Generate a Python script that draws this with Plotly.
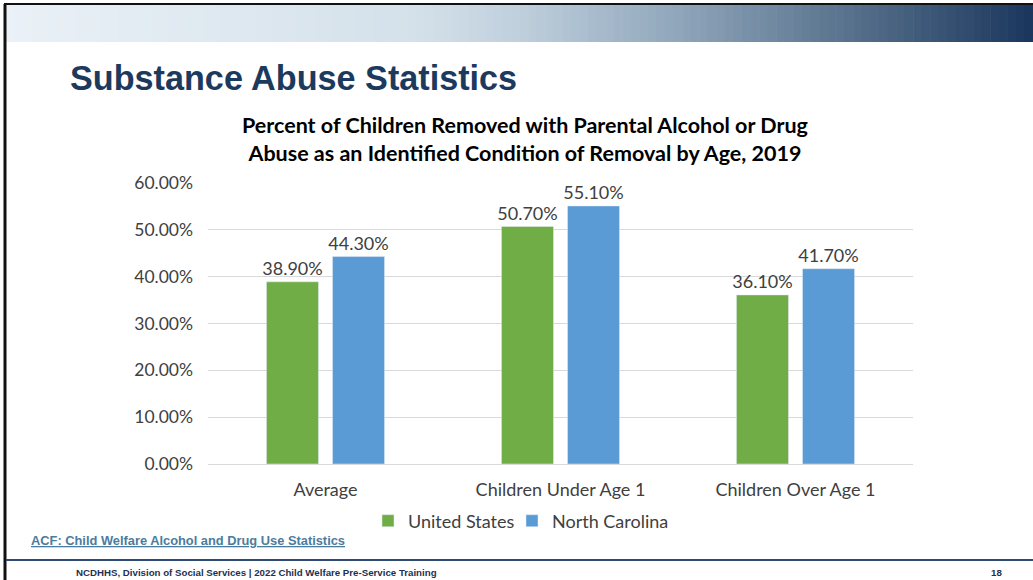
import plotly.graph_objects as go

# chart data
categories = ["Average", "Children Under Age 1", "Children Over Age 1"]
us_values = [38.9, 50.7, 36.1]
nc_values = [44.3, 55.1, 41.7]
series_names = ["United States", "North Carolina"]
y_ticks = [0, 10, 20, 30, 40, 50, 60]
y_tick_labels = ["%.2f%%" % v for v in y_ticks]

W, H = 1033, 580
L, R, T, B = 208, 120, 183, 116
PW, PH = W - L - R, H - T - B


def fx(x):
    return (x - L) / PW


def fy(y):
    return (H - B - y) / PH


def mix(c1, c2, t):
    a = [int(c1[i:i + 2], 16) for i in (1, 3, 5)]
    b = [int(c2[i:i + 2], 16) for i in (1, 3, 5)]
    return "#%02x%02x%02x" % tuple(round(a[k] + (b[k] - a[k]) * t) for k in range(3))


fig = go.Figure()
fig.add_trace(go.Bar(x=categories, y=us_values, name=series_names[0],
                     marker=dict(color="#70AD47"), legend="legend",
                     texttemplate="%{y:.2f}%", textposition="outside", constraintext="none",
                     textfont=dict(size=18, color="#404040"), cliponaxis=False))
fig.add_trace(go.Bar(x=categories, y=nc_values, name=series_names[1],
                     marker=dict(color="#5B9BD5"), legend="legend2",
                     texttemplate="%{y:.2f}%", textposition="outside", constraintext="none",
                     textfont=dict(size=18, color="#404040"), cliponaxis=False))

# header gradient band
stops = [(0, "#EAF1F7"), (0.4, "#D4E1EA"), (0.5, "#BFCFDC"), (0.65, "#91A7BC"),
         (0.8, "#5F7892"), (1.0, "#1B365D")]
shapes = []
n = 120
x0, x1 = 6, W
for i in range(n):
    t = (i + 0.5) / n
    for j in range(len(stops) - 1):
        if stops[j][0] <= t <= stops[j + 1][0]:
            tt = (t - stops[j][0]) / (stops[j + 1][0] - stops[j][0])
            col = mix(stops[j][1], stops[j + 1][1], tt)
            break
    xa = x0 + (x1 - x0) * i / n
    xb = x0 + (x1 - x0) * (i + 1) / n + 0.6
    shapes.append(dict(type="rect", xref="paper", yref="paper",
                       x0=fx(xa), x1=fx(xb), y0=fy(42), y1=fy(5),
                       fillcolor=col, line=dict(width=0), layer="below"))

# slide border lines
shapes.append(dict(type="line", xref="paper", yref="paper", x0=fx(4), x1=fx(W), y0=fy(4), y1=fy(4),
                   line=dict(color="#111111", width=2)))
shapes.append(dict(type="line", xref="paper", yref="paper", x0=fx(5), x1=fx(5), y0=fy(4), y1=fy(H),
                   line=dict(color="#111111", width=3)))
# footer line
shapes.append(dict(type="line", xref="paper", yref="paper", x0=fx(6), x1=fx(W), y0=fy(560), y1=fy(560),
                   line=dict(color="#2F4B74", width=2)))

annotations = [
    dict(text="<b>Substance Abuse Statistics</b>", x=fx(68), y=fy(78), xanchor="left", yanchor="middle",
         font=dict(family="Liberation Sans, Arial", size=34.2, color="#1C3A5E")),
    dict(text="<b>Percent of Children Removed with Parental Alcohol or Drug<br>"
              "Abuse as an Identified Condition of Removal by Age, 2019</b>",
         x=fx(525), y=fy(139), xanchor="center", yanchor="middle",
         font=dict(family="Lato", size=21.5, color="#000000")),
    dict(text="<b><u>ACF: Child Welfare Alcohol and Drug Use Statistics</u></b>",
         x=fx(29), y=fy(540), xanchor="left", yanchor="middle",
         font=dict(family="Liberation Sans, Arial", size=12.85, color="#4B7C9E")),
    dict(text="<b>NCDHHS, Division of Social Services | 2022 Child Welfare Pre-Service Training</b>",
         x=fx(256), y=fy(572), xanchor="center", yanchor="middle",
         font=dict(family="Liberation Sans, Arial", size=9.7, color="#1F3050")),
    dict(text="<b>18</b>", x=fx(996), y=fy(572), xanchor="center", yanchor="middle",
         font=dict(family="Liberation Sans, Arial", size=9.7, color="#1F3050")),
]
for a in annotations:
    a.update(xref="paper", yref="paper", showarrow=False)

legend_style = dict(orientation="h", yanchor="middle", xanchor="left", y=fy(521),
                    font=dict(size=18, color="#404040"), itemwidth=30,
                    bgcolor="rgba(0,0,0,0)")

fig.update_layout(
    width=W, height=H, autosize=False,
    margin=dict(l=L, r=R, t=T, b=B),
    paper_bgcolor="white", plot_bgcolor="white",
    font=dict(family="Lato", size=17, color="#404040"),
    barmode="group", bargap=0.438, bargroupgap=0.212,
    shapes=shapes, annotations=annotations,
    showlegend=True,
    legend=dict(legend_style, x=fx(368)),
    legend2=dict(legend_style, x=fx(512)),
    xaxis=dict(showgrid=False, showline=True, linecolor="#D9D9D9", linewidth=1,
               ticks="", ticklabelstandoff=9, tickfont=dict(size=18, color="#404040")),
    yaxis=dict(range=[0, 60], tickvals=y_ticks, ticktext=y_tick_labels,
               showgrid=True, gridcolor="#D9D9D9", gridwidth=1, zeroline=False,
               showline=False, ticks="", ticklabelstandoff=14,
               tickfont=dict(size=17.5, color="#404040")),
)

fig.write_html("out.html", config={"displayModeBar": False},
               post_script="document.body.style.margin='0';")
